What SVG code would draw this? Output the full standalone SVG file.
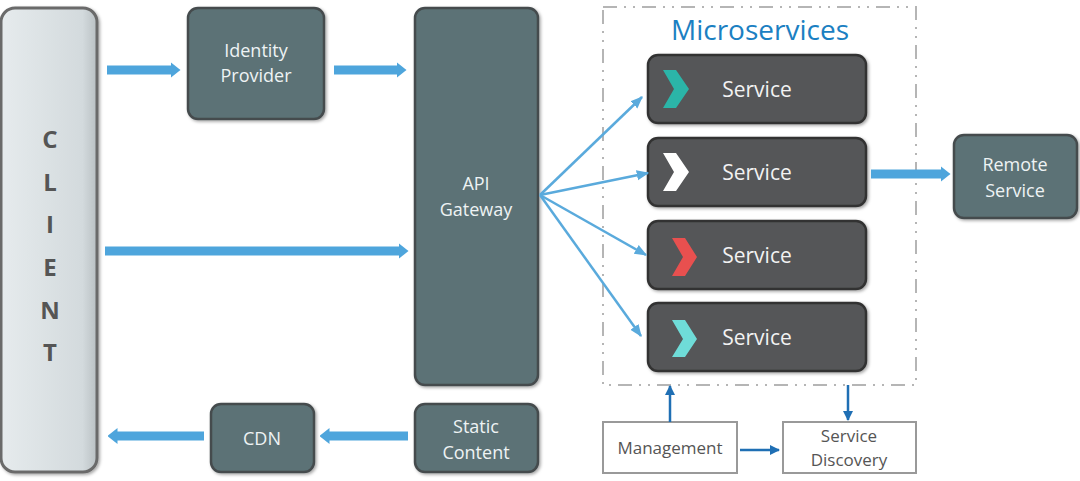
<svg xmlns="http://www.w3.org/2000/svg" width="1080" height="481" viewBox="0 0 1080 481">
<defs>
<linearGradient id="cg" x1="0" y1="0" x2="1" y2="0">
<stop offset="0" stop-color="#e6ebed"/><stop offset="0.85" stop-color="#d3dadd"/><stop offset="1" stop-color="#b9c0c3"/>
</linearGradient>
<filter id="sh" x="-10%" y="-10%" width="130%" height="130%">
<feDropShadow dx="1.5" dy="1.5" stdDeviation="1.5" flood-color="#000" flood-opacity="0.35"/>
</filter>
<marker id="ah" viewBox="0 0 10 16" refX="0.5" refY="8" markerWidth="10" markerHeight="16" orient="auto" markerUnits="userSpaceOnUse">
<path d="M0,0 L10,8 L0,16 Z" fill="#4ea5dc"/>
</marker>
<marker id="at" viewBox="0 0 10 10" refX="9" refY="5" markerWidth="5" markerHeight="5" orient="auto" markerUnits="strokeWidth">
<path d="M0,1 L10,5 L0,9 Z" fill="#5aaadc"/>
</marker>
<marker id="ab" viewBox="0 0 10 10" refX="9" refY="5" markerWidth="4" markerHeight="4" orient="auto" markerUnits="strokeWidth">
<path d="M0,0 L10,5 L0,10 Z" fill="#1f6fb4"/>
</marker>
</defs>
<style>
.node{fill:#5b7276;stroke:#454b4d;stroke-width:2.5;filter:url(#sh)}
.svc{fill:#555759;stroke:#333;stroke-width:2.5;filter:url(#sh)}
.box{fill:#fff;stroke:#999;stroke-width:2}
.t{font-family:"Open Sans","Liberation Sans",sans-serif;fill:#eef3f4;font-size:18px;text-anchor:middle}
.ts{font-family:"Open Sans","Liberation Sans",sans-serif;fill:#f2f2f2;font-size:21px;text-anchor:middle}
.tb{font-family:"Open Sans","Liberation Sans",sans-serif;fill:#555;font-size:17px;text-anchor:middle}
.tc{font-family:"Open Sans","Liberation Sans",sans-serif;fill:#555;font-size:24px;font-weight:bold;text-anchor:middle}
.thick{stroke:#4ea5dc;stroke-width:9;fill:none;marker-end:url(#ah)}
.thin{stroke:#5aaadc;stroke-width:2.5;fill:none;marker-end:url(#at)}
.blue{stroke:#1f6fb4;stroke-width:2.5;fill:none;marker-end:url(#ab)}
</style>
<rect width="1080" height="481" fill="#fff"/>

<g id="microservices">
<rect x="603" y="7" width="313" height="378" fill="none" stroke="#b5b5b5" stroke-width="2" stroke-dasharray="14,7,2,7,2,7"/>
<text x="760" y="40" font-family="'Open Sans','Liberation Sans',sans-serif" font-size="28" fill="#1b80c2" text-anchor="middle">Microservices</text>
</g>

<g id="client">
<rect x="1" y="8" width="96" height="464" rx="14" fill="url(#cg)" stroke="#6a6a6a" stroke-width="3" filter="url(#sh)"/>
<text class="tc" x="50" y="148">C</text>
<text class="tc" x="50" y="191">L</text>
<text class="tc" x="50" y="233">I</text>
<text class="tc" x="50" y="276">E</text>
<text class="tc" x="50" y="319">N</text>
<text class="tc" x="50" y="361">T</text>
</g>

<g id="identity-provider">
<rect class="node" x="188" y="8" width="136" height="111" rx="10"/>
<text class="t" x="256" y="57">Identity</text>
<text class="t" x="256" y="82">Provider</text>
</g>

<g id="api-gateway">
<rect class="node" x="415" y="8" width="123" height="377" rx="10"/>
<text class="t" x="476" y="190">API</text>
<text class="t" x="476" y="216">Gateway</text>
</g>

<g id="static-content">
<rect class="node" x="415" y="404" width="123" height="68" rx="10"/>
<text class="t" x="476" y="433">Static</text>
<text class="t" x="476" y="459">Content</text>
</g>

<g id="cdn">
<rect class="node" x="211" y="404" width="103" height="68" rx="10"/>
<text class="t" x="262" y="445">CDN</text>
</g>

<g id="remote-service">
<rect class="node" x="954" y="135" width="123" height="83" rx="10"/>
<text class="t" x="1015" y="171">Remote</text>
<text class="t" x="1015" y="197">Service</text>
</g>

<g id="service-1">
<rect class="svc" x="648" y="55" width="218" height="68" rx="10"/>
<path d="M663,70 L676,70 L689,89 L676,108 L663,108 L674,89 Z" fill="#2bb5a8"/>
<text class="ts" x="757" y="97">Service</text>
</g>
<g id="service-2">
<rect class="svc" x="648" y="138" width="218" height="68" rx="10"/>
<path d="M663,153 L676,153 L689,172 L676,191 L663,191 L674,172 Z" fill="#ffffff"/>
<text class="ts" x="757" y="180">Service</text>
</g>
<g id="service-3">
<rect class="svc" x="648" y="221" width="218" height="68" rx="10"/>
<path d="M672,238 L685,238 L697,257 L685,276 L672,276 L683,257 Z" fill="#e8504f"/>
<text class="ts" x="757" y="263">Service</text>
</g>
<g id="service-4">
<rect class="svc" x="648" y="303" width="218" height="68" rx="10"/>
<path d="M672,320 L685,320 L697,339 L685,357 L672,357 L683,339 Z" fill="#6fdcd8"/>
<text class="ts" x="757" y="345">Service</text>
</g>

<g id="management">
<rect class="box" x="603" y="422" width="134" height="51"/>
<text class="tb" x="670" y="454">Management</text>
</g>
<g id="service-discovery">
<rect class="box" x="783" y="422" width="133" height="51"/>
<text class="tb" x="849" y="442">Service</text>
<text class="tb" x="849" y="466">Discovery</text>
</g>

<g id="connectors">
<line class="thick" x1="107" y1="70" x2="171" y2="70"/>
<line class="thick" x1="334" y1="70" x2="397" y2="70"/>
<line class="thick" x1="105" y1="251" x2="399" y2="251"/>
<line class="thick" x1="408" y1="436" x2="329" y2="436"/>
<line class="thick" x1="204" y1="436" x2="117" y2="436"/>
<line class="thick" x1="871" y1="174" x2="941" y2="174"/>
<line class="thin" x1="540" y1="195" x2="642" y2="97"/>
<line class="thin" x1="540" y1="195" x2="648" y2="173"/>
<line class="thin" x1="540" y1="195" x2="646" y2="255"/>
<line class="thin" x1="540" y1="195" x2="641" y2="336"/>
<line class="blue" x1="670" y1="422" x2="670" y2="386"/>
<line class="blue" x1="848" y1="385" x2="848" y2="420"/>
<line class="blue" x1="740" y1="450" x2="779" y2="450"/>
</g>
</svg>
